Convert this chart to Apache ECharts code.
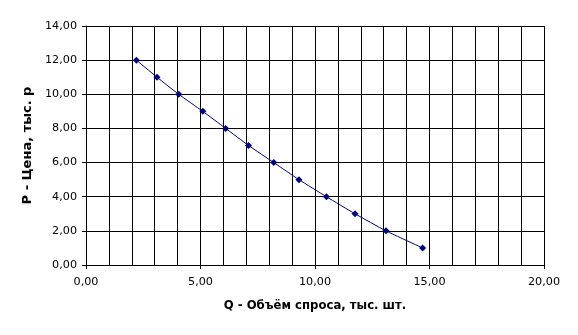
<!DOCTYPE html>
<html><head><meta charset="utf-8">
<script src="https://cdn.jsdelivr.net/npm/echarts@6/dist/echarts.min.js"></script>
<style>html,body{margin:0;padding:0;background:#fff}#c{width:578px;height:335px}</style>
</head><body><div id="c"></div>
<script>
const quantity = [2.2, 3.1, 4.05, 5.1, 6.1, 7.1, 8.2, 9.3, 10.5, 11.75, 13.1, 14.7];
const price = [12, 11, 10, 9, 8, 7, 6, 5, 4, 3, 2, 1];
const xTitle = 'Q - Объём спроса, тыс. шт.';
const yTitle = 'P - Цена, тыс. р';
const fmt = v => v.toFixed(2).replace('.', ',');
const chart = echarts.init(document.getElementById('c'));
const font = 'DejaVu Sans, Verdana, sans-serif';
chart.setOption({
  animation: false,
  backgroundColor: '#fff',
  grid: {left: 86, right: 34, top: 26, bottom: 70},
  xAxis: {
    type: 'value', min: 0, max: 20, interval: 5,
    name: xTitle, nameLocation: 'middle', nameGap: 35,
    nameTextStyle: {fontFamily: font, fontSize: 11.7, fontWeight: 'bold', color: '#000'},
    axisLine: {show: true, lineStyle: {color: '#000', width: 1}},
    axisTick: {show: true, length: 4, lineStyle: {color: '#000'}},
    axisLabel: {formatter: fmt, fontFamily: font, fontSize: 11.2, color: '#000', margin: 12},
    splitLine: {show: true, lineStyle: {color: '#000', width: 1}},
    minorTick: {show: false, splitNumber: 5},
    minorSplitLine: {show: true, lineStyle: {color: '#000', width: 1}}
  },
  yAxis: {
    type: 'value', min: 0, max: 14, interval: 2,
    name: yTitle, nameLocation: 'middle', nameGap: 48,
    nameTextStyle: {fontFamily: font, fontSize: 13, fontWeight: 'bold', color: '#000'},
    axisLine: {show: true, lineStyle: {color: '#000', width: 1}},
    axisTick: {show: true, length: 4, lineStyle: {color: '#000'}},
    axisLabel: {formatter: fmt, fontFamily: font, fontSize: 11.2, color: '#000', margin: 9},
    splitLine: {show: true, lineStyle: {color: '#000', width: 1}}
  },
  series: [{
    type: 'line',
    data: quantity.map((q, i) => [q, price[i]]),
    smooth: 0.2,
    symbol: 'diamond', symbolSize: 7,
    lineStyle: {color: '#000080', width: 1},
    itemStyle: {color: '#000080'}
  }]
});
</script></body></html>
